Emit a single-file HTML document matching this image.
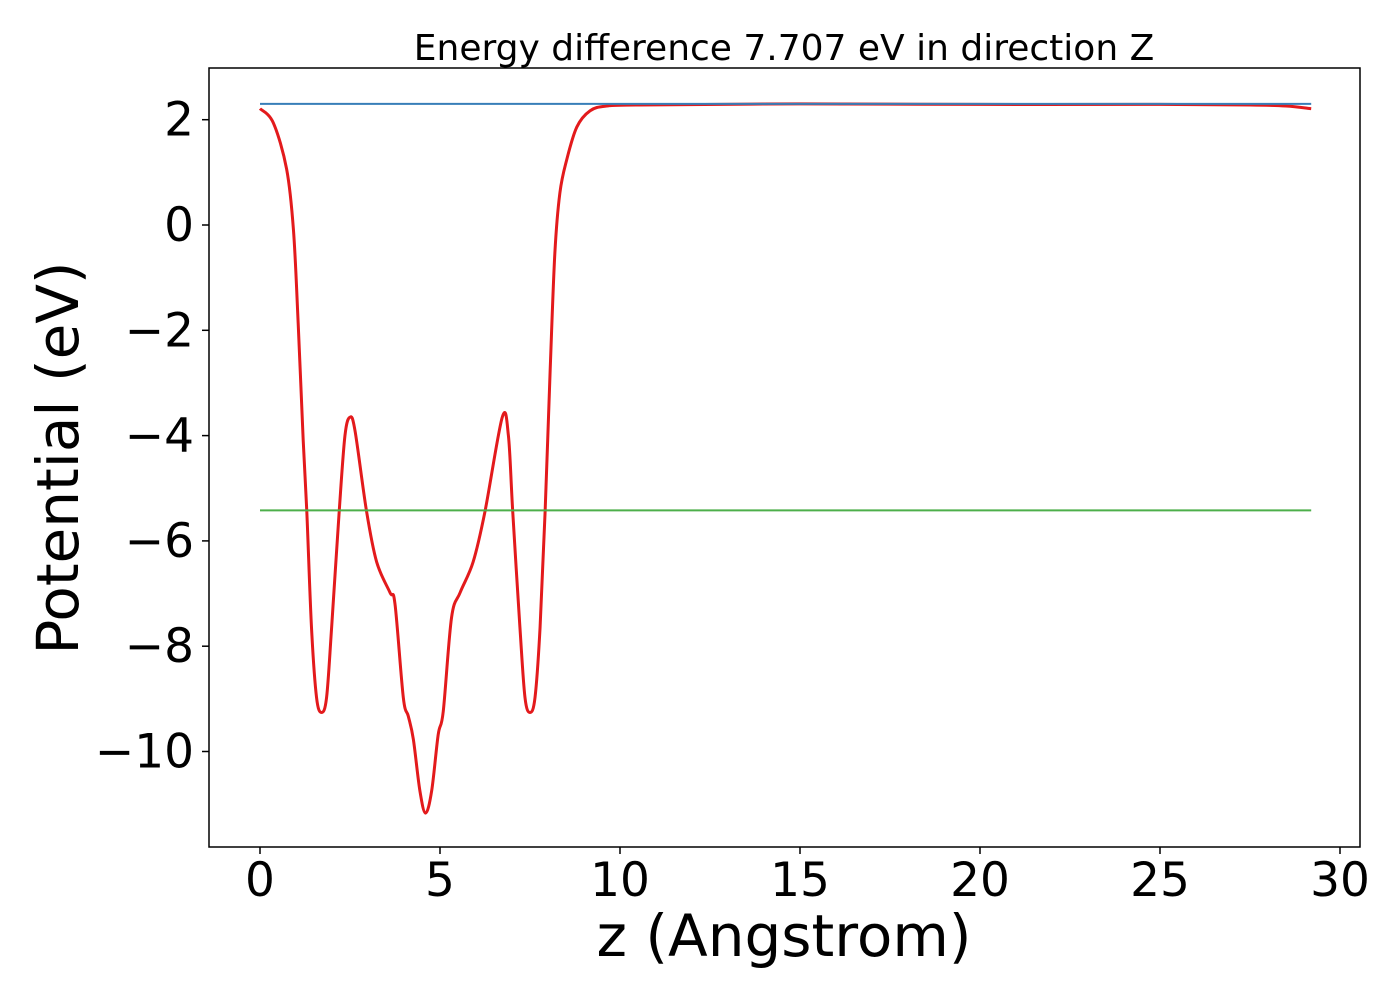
<!DOCTYPE html>
<html><head><meta charset="utf-8"><style>
body{margin:0;background:#fff;}
svg text{font-family:"DejaVu Sans","Liberation Sans",sans-serif;fill:#000;}
</style></head><body>
<svg id="chart" width="1400" height="1000" viewBox="0 0 1400 1000">
<rect width="1400" height="1000" fill="#fff"/>
<g id="marks"></g>
<rect x="209" y="68" width="1151" height="779" fill="none" stroke="#000" stroke-width="1.5"/>
<g id="xticks"></g><g id="yticks"></g>
<text x="784" y="60" font-size="36" text-anchor="middle">Energy difference 7.707 eV in direction Z</text>
<text x="784" y="956" font-size="58" text-anchor="middle">z (Angstrom)</text>
<text transform="translate(78,458) rotate(-90)" font-size="58" text-anchor="middle">Potential (eV)</text>
</svg>
<script>
const zVals=[0,0.37,0.74,0.93,1.06,1.2,1.3,1.43,1.57,1.71,1.85,1.99,2.2,2.36,2.5,2.64,2.96,3.24,3.61,3.75,3.98,4.12,4.26,4.44,4.6,4.77,4.95,5.09,5.32,5.56,5.92,6.25,6.73,6.9,7.02,7.22,7.36,7.5,7.64,7.78,7.92,8.06,8.19,8.33,8.52,8.8,9.17,9.63,10.56,15,20,25,27.5,28.5,29.2];
const potVals=[2.21,1.94,1.06,-0.1,-1.86,-4.09,-5.44,-7.64,-8.97,-9.26,-8.97,-7.64,-5.44,-4.0,-3.65,-3.91,-5.44,-6.4,-6.98,-7.2,-8.97,-9.33,-9.77,-10.74,-11.17,-10.74,-9.68,-9.24,-7.46,-6.98,-6.4,-5.44,-3.65,-4.0,-5.44,-7.64,-8.97,-9.26,-8.97,-7.64,-5.44,-2.76,-0.54,0.61,1.24,1.86,2.17,2.26,2.28,2.3,2.29,2.29,2.28,2.26,2.21];
const vacuumLevel=2.3;
const fermiLevel=-5.42;
const zMax=29.2;
const xTicks=[0,5,10,15,20,25,30];
const yTicks=[2,0,-2,-4,-6,-8,-10];
const yTickLabels=["2","0","\u22122","\u22124","\u22126","\u22128","\u221210"];
const X=v=>260+v*36;
const Y=v=>225-v*52.65;
const NS="http://www.w3.org/2000/svg";
const marks=document.getElementById('marks');
function mk(tag,attrs,parent){const e=document.createElementNS(NS,tag);for(const k in attrs)e.setAttribute(k,attrs[k]);parent.appendChild(e);return e;}
const pts=zVals.map((z,i)=>[X(z),Y(potVals[i])]);
let d=`M${pts[0][0]},${pts[0][1]}`;
for(let i=0;i<pts.length-1;i++){const p0=pts[Math.max(0,i-1)],p1=pts[i],p2=pts[i+1],p3=pts[Math.min(pts.length-1,i+2)];
const c1=[p1[0]+(p2[0]-p0[0])/6,p1[1]+(p2[1]-p0[1])/6],c2=[p2[0]-(p3[0]-p1[0])/6,p2[1]-(p3[1]-p1[1])/6];
d+=` C${c1[0]},${c1[1]} ${c2[0]},${c2[1]} ${p2[0]},${p2[1]}`;}
const red=mk('path',{d:d,fill:'none',stroke:'#e31a1c','stroke-width':3,'stroke-linejoin':'round'},marks);


const g=mk('line',{x1:X(0),x2:X(zMax),y1:Y(fermiLevel),y2:Y(fermiLevel),stroke:'#4daf4a','stroke-width':2},marks);


const b=mk('line',{x1:X(0),x2:X(zMax),y1:Y(vacuumLevel),y2:Y(vacuumLevel),stroke:'#377eb8','stroke-width':2},marks);


const xt=document.getElementById('xticks');
xTicks.forEach(t=>{
 const l=mk('line',{x1:X(t),x2:X(t),y1:847,y2:854,stroke:'#000','stroke-width':1.5},xt);
 
 
 const tx=mk('text',{x:X(t),y:896,'font-size':47,'text-anchor':'middle'},xt);
 tx.textContent=t;
 
 
});
const yt=document.getElementById('yticks');
yTicks.forEach((t,i)=>{
 const l=mk('line',{x1:202,x2:209,y1:Y(t),y2:Y(t),stroke:'#000','stroke-width':1.5},yt);
 
 
 const tx=mk('text',{x:194,y:Y(t)+16,'font-size':47,'text-anchor':'end'},yt);
 tx.textContent=yTickLabels[i];
 
 
});
</script>
</body></html>
